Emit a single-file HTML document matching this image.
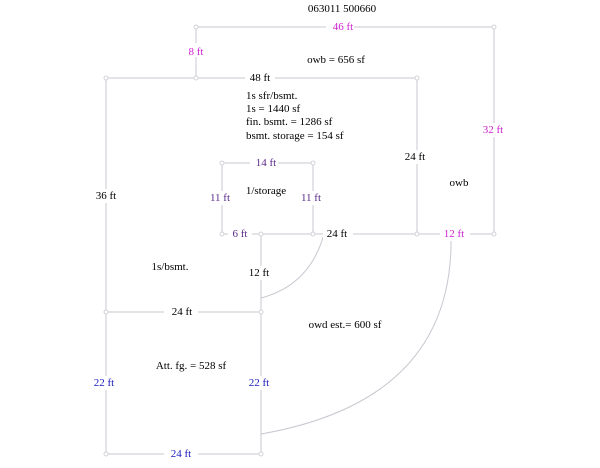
<!DOCTYPE html>
<html><head><style>
body{margin:0;background:#fff}
svg text{font-family:"Liberation Serif",serif;font-size:11px;text-anchor:middle;dominant-baseline:central}
.b{fill:#000}.m{fill:#d020d0}.p{fill:#5a2a8a}.u{fill:#1a1ac0}
</style></head><body>
<svg width="600" height="463" viewBox="0 0 600 463" xmlns="http://www.w3.org/2000/svg">
<g stroke="#c8c8d0" stroke-width="1" fill="none">
<path d="M196 27H494V234M196 27V78"/>
<path d="M106 78H417V234M106 78V454H261V234M106 312H261"/>
<path d="M222 234H494M222 163H313V234M222 163V234"/>
<path d="M324 234Q310 285 261 298"/>
<path d="M451 234Q455 400 261 434"/>
</g>
<g fill="#fff" stroke="#c8c8d0" stroke-width="0.8">
<circle cx="196" cy="27" r="2"/><circle cx="494" cy="27" r="2"/><circle cx="196" cy="78" r="2"/>
<circle cx="106" cy="78" r="2"/><circle cx="417" cy="78" r="2"/><circle cx="417" cy="234" r="2"/>
<circle cx="494" cy="234" r="2"/><circle cx="222" cy="163" r="2"/><circle cx="313" cy="163" r="2"/>
<circle cx="222" cy="234" r="2"/><circle cx="313" cy="234" r="2"/><circle cx="261" cy="234" r="2"/>
<circle cx="106" cy="312" r="2"/><circle cx="261" cy="312" r="2"/><circle cx="106" cy="454" r="2"/><circle cx="261" cy="454" r="2"/>
</g>
<g fill="#fff">
<rect x="326" y="20" width="28" height="14"/><rect x="188" y="43" width="16" height="14"/>
<rect x="245" y="71" width="30" height="14"/><rect x="477" y="123" width="32" height="14"/>
<rect x="400" y="150" width="32" height="14"/><rect x="90" y="189" width="32" height="14"/>
<rect x="250" y="156" width="28" height="14"/><rect x="206" y="191" width="30" height="14"/><rect x="298" y="191" width="30" height="14"/>
<rect x="228" y="227" width="24" height="14"/><rect x="323" y="227" width="30" height="14"/><rect x="440" y="227" width="30" height="14"/>
<rect x="245" y="266" width="32" height="14"/><rect x="164" y="305" width="34" height="14"/>
<rect x="88" y="376" width="32" height="14"/><rect x="245" y="376" width="32" height="14"/><rect x="164" y="447" width="34" height="14"/>
</g>
<text x="342" y="9" class="b">063011 500660</text>
<text x="343" y="27" class="m">46 ft</text>
<text x="196" y="52" class="m">8 ft</text>
<text x="336" y="60" class="b">owb = 656 sf</text>
<text x="260" y="78" class="b">48 ft</text>
<text x="246" y="96" class="b" style="text-anchor:start">1s sfr/bsmt.</text>
<text x="246" y="109" class="b" style="text-anchor:start">1s = 1440 sf</text>
<text x="246" y="122" class="b" style="text-anchor:start">fin. bsmt. = 1286 sf</text>
<text x="246" y="136" class="b" style="text-anchor:start">bsmt. storage = 154 sf</text>
<text x="493" y="130" class="m">32 ft</text>
<text x="415" y="157" class="b">24 ft</text>
<text x="266" y="163" class="p">14 ft</text>
<text x="459" y="183" class="b">owb</text>
<text x="106" y="196" class="b">36 ft</text>
<text x="266" y="191" class="b">1/storage</text>
<text x="220" y="198" class="p">11 ft</text>
<text x="311" y="198" class="p">11 ft</text>
<text x="240" y="234" class="p">6 ft</text>
<text x="337" y="234" class="b">24 ft</text>
<text x="454" y="234" class="m">12 ft</text>
<text x="170" y="267" class="b">1s/bsmt.</text>
<text x="259" y="273" class="b">12 ft</text>
<text x="182" y="312" class="b">24 ft</text>
<text x="345" y="325" class="b">owd est.= 600 sf</text>
<text x="191" y="366" class="b">Att. fg. = 528 sf</text>
<text x="104" y="383" class="u">22 ft</text>
<text x="259" y="383" class="u">22 ft</text>
<text x="181" y="454" class="u">24 ft</text>
</svg>
</body></html>
